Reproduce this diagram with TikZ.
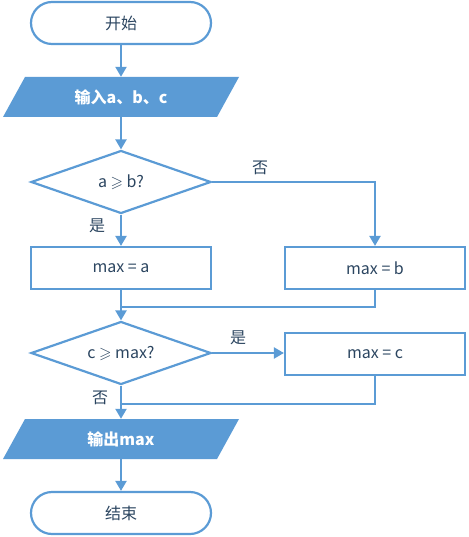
\documentclass[tikz,border=0pt]{standalone}
\usepackage{amssymb}
\usepackage{fontspec}
\setmainfont{Noto Sans CJK SC}
\usetikzlibrary{shapes.geometric,arrows.meta}
\definecolor{flowblue}{HTML}{5B9BD5}
\definecolor{txt}{HTML}{2B4560}
\begin{document}
\begin{tikzpicture}[x=1pt,y=-1pt,
  every node/.style={font=\fontsize{16pt}{18pt}\selectfont, text=txt},
  line/.style={draw=flowblue, line width=2.2pt},
  arr/.style={line, -{Triangle[width=11pt,length=10pt]}},
  term/.style={line, rounded corners=21pt, minimum width=180pt, minimum height=42pt, inner sep=0pt},
  procbox/.style={line, minimum width=180pt, minimum height=42pt, inner sep=0pt},
  decide/.style={line, diamond, aspect=3, minimum width=180pt, minimum height=63pt, inner sep=0pt},
  iobox/.style={minimum width=236pt, minimum height=40pt, inner sep=0pt, text=white, font=\fontsize{16pt}{18pt}\selectfont\bfseries},
  lbl/.style={inner sep=0pt}]
\useasboundingbox (0,0) rectangle (468,537);
% parallelogram fills
\fill[flowblue] (25,77) -- (239,77) -- (217,117) -- (3,117) -- cycle;
\fill[flowblue] (25,419) -- (239,419) -- (217,459) -- (3,459) -- cycle;
\node[term] (start) at (121,23) {开始};
\node[iobox] (in) at (121,97) {输入a、b、c};
\node[decide] (d1) at (121,182) {a $\geqslant$ b?};
\node[procbox] (ma) at (121,268) {max = a};
\node[procbox] (mb) at (375,268) {max = b};
\node[decide] (d2) at (121,353) {c $\geqslant$ max?};
\node[procbox] (mc) at (375,354) {max = c};
\node[iobox] (out) at (121,439) {输出max};
\node[term] (end) at (121,513) {结束};
\coordinate (j1) at (121,307);
\coordinate (j2) at (121,404);
\draw[arr] (start) -- (in);
\draw[arr] (in) -- (d1);
\draw[arr] (d1) -- (ma);
\draw[arr] (d1.east) -| (mb.north);
\draw[arr] (ma) -- (d2);
\draw[line] (mb.south) |- (j1);
\draw[arr] (d2.east) -- (mc.west |- d2.east);
\draw[arr] (d2) -- (out);
\draw[line] (mc.south) |- (j2);
\draw[arr] (out) -- (end);
\node[lbl] (l1) at (260,168) {否};
\node[lbl] (l2) at (97,226) {是};
\node[lbl] (l3) at (238,338) {是};
\node[lbl] (l4) at (100,398) {否};
\end{tikzpicture}
\end{document}
